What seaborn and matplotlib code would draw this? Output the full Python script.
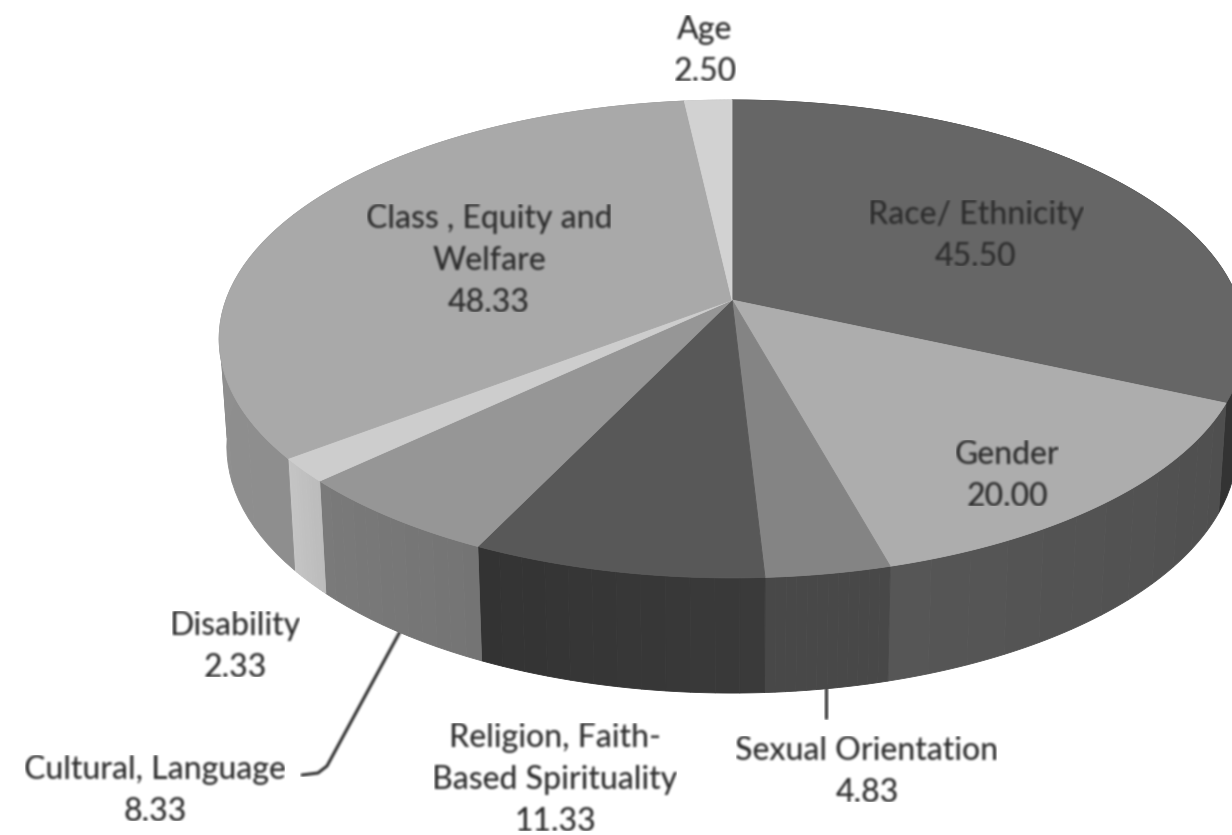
import numpy as np
import matplotlib
matplotlib.use('Agg')
import matplotlib.pyplot as plt
import seaborn as sns

# --- data, clockwise from the top ---
categories = ['Race/ Ethnicity', 'Gender', 'Sexual Orientation',
              'Religion, Faith-\nBased Spirituality', 'Cultural, Language',
              'Disability', 'Class , Equity and\nWelfare', 'Age']
values = [45.50, 20.00, 4.83, 11.33, 8.33, 2.33, 48.33, 2.50]

top_colors = ['#666666', '#adadad', '#848484', '#585858', '#969696', '#cdcdcd', '#a9a9a9', '#d2d2d2']
wall_start = ['#333333', '#4f4f4f', '#484848', '#3a3a3a', '#747474', '#bcbcbc', '#8e8e8e', '#bbbbbb']
wall_end = ['#333333', '#565656', '#484848', '#333333', '#7a7a7a', '#c4c4c4', '#929292', '#bbbbbb']

# label centres in image pixels
label_pos = [(976, 236), (1007, 476), (867, 772), (555, 780), (155, 791), (235, 647), (489, 261), (705, 51)]

# --- pie geometry in image pixels ---
CX, CY = 732, 300
RX, RY = 506, 232.6
PERSP = 0.163
TEXT_RGB = (0.18, 0.18, 0.18)

sns.set_theme(style='white')
plt.rcParams['font.family'] = ['Lato', 'DejaVu Sans']


def blur(img, dpi):
    # the reference is a soft upscaled scan, so soften the coverage only
    kernel = np.array([1, 3, 4, 3, 1], dtype=float)
    kernel /= kernel.sum()
    alpha = img[..., 3].astype(float)
    for axis in (0, 1):
        alpha = np.apply_along_axis(lambda v: np.convolve(v, kernel, mode='same'), axis, alpha)
    out = np.zeros_like(img, dtype=float)
    out[..., :3] = TEXT_RGB
    out[..., 3] = alpha
    return out, 0, 0


def rim(theta, lower=False):
    w = 1 + PERSP * np.cos(theta)
    x = CX + RX * np.sin(theta) / w
    y = CY - RY * np.cos(theta) / w
    if lower:
        x = CX + (x - CX) * 0.985
        y = y + 115 - (w - 0.84) * 55
    return x, y


fig = plt.figure(figsize=(12.32, 8.35), dpi=100)
ax = fig.add_axes([0, 0, 1, 1])
ax.set_xlim(0, 1232)
ax.set_ylim(835, 0)
ax.axis('off')

edges = np.deg2rad(np.cumsum([0] + values) / sum(values) * 360)

# leader lines go under the pie so they start right at its edge
for xs, ys in [([402, 327, 318, 302], [628, 766, 773, 775]), ([826, 826], [685, 718])]:
    line = ax.plot(xs, ys, color='#444444', lw=2.2, zorder=0.5)[0]
    line.set_agg_filter(blur)

# side walls first, the top faces cover whatever lies behind them
for i in range(len(values)):
    shades = sns.blend_palette([wall_start[i], wall_end[i]], 12)
    steps = np.linspace(edges[i], edges[i + 1], 13)
    for j, color in enumerate(shades):
        t = np.linspace(steps[j], steps[j + 1], 6)
        x1, y1 = rim(t)
        x2, y2 = rim(t, lower=True)
        ax.fill(np.r_[x1, x2[::-1]], np.r_[y1, y2[::-1]], color=color, lw=0.6)

for i in range(len(values)):
    t = np.linspace(edges[i], edges[i + 1], 120)
    x, y = rim(t)
    ax.fill(np.r_[CX, x], np.r_[CY, y], color=top_colors[i], lw=0.6)

for name, val, (lx, ly) in zip(categories, values, label_pos):
    txt = ax.text(lx, ly, f'{name}\n{val:.2f}', ha='center', va='center',
                  fontsize=23, fontweight='medium', color='#333333', linespacing=1.5)
    txt.set_agg_filter(blur)

fig.savefig('out.png', dpi=100, facecolor='white')
